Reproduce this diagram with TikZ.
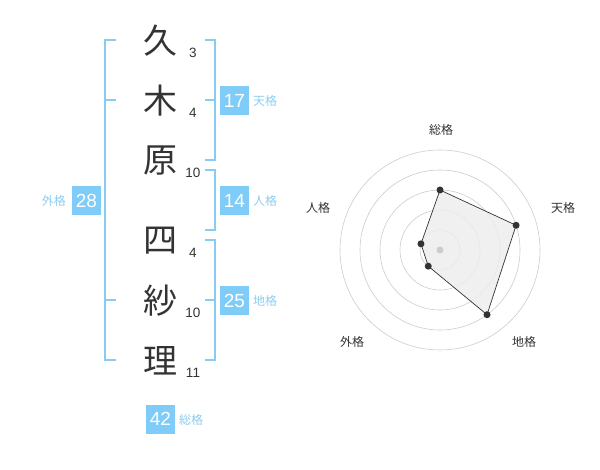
\documentclass[tikz,border=0pt]{standalone}
\usepackage{fontspec}
\setmainfont{Liberation Sans}
\newfontfamily\jp{Noto Sans CJK JP}
\usetikzlibrary{calc}
\definecolor{boxblue}{HTML}{80CCF8}
\definecolor{brblue}{HTML}{88CCF4}
\definecolor{lblblue}{HTML}{8CCDEE}
\definecolor{ink}{HTML}{333333}
\definecolor{ring}{HTML}{CCCCCC}
\tikzset{
  kanji/.style={text=ink,font=\jp\fontsize{34}{34}\selectfont,inner sep=0pt},
  strokes/.style={text=ink,font=\fontsize{13.5}{13.5}\selectfont,inner sep=0pt},
  numbox/.style={fill=boxblue,text=white,minimum width=29pt,minimum height=29pt,inner sep=0pt,font=\fontsize{19}{19}\selectfont},
  kaku/.style={text=lblblue,font=\jp\fontsize{12}{12}\selectfont,inner sep=0pt},
  brk/.style={draw=brblue,line width=2pt},
  rlabel/.style={text=ink,font=\jp\fontsize{12}{12}\selectfont,inner sep=0pt},
  dot/.style={circle,fill=ink,inner sep=0pt,minimum size=7pt},
}
\begin{document}
\begin{tikzpicture}[x=1pt,y=-1pt]
\useasboundingbox (0,0) rectangle (600,470);
% characters
\node[kanji] (c1) at (160,41) {久};
\node[kanji] (c2) at (160,101) {木};
\node[kanji] (c3) at (160,161) {原};
\node[kanji] (c4) at (160,241) {四};
\node[kanji] (c5) at (160,301) {紗};
\node[kanji] (c6) at (160,361) {理};
\node[strokes] (s1) at (193,53) {3};
\node[strokes] (s2) at (193,113) {4};
\node[strokes] (s3) at (193,173) {10};
\node[strokes] (s4) at (193,253) {4};
\node[strokes] (s5) at (193,313) {10};
\node[strokes] (s6) at (193,373) {11};
% brackets
\draw[brk] (116,40) -- (105,40) -- (105,360) -- (116,360);
\draw[brk] (105,100) -- (116,100);
\draw[brk] (105,300) -- (116,300);
\draw[brk] (205,40) -- (215,40) -- (215,160) -- (205,160);
\draw[brk] (205,100) -- (215,100);
\draw[brk] (205,170) -- (215,170) -- (215,230) -- (205,230);
\draw[brk] (205,240) -- (215,240) -- (215,360) -- (205,360);
\draw[brk] (205,300) -- (215,300);
% boxes
\node[numbox] (ten) at (234.5,100.5) {17};
\node[kaku,anchor=west] (tenl) at (253,101) {天格};
\node[numbox] (jin) at (234.5,200.5) {14};
\node[kaku,anchor=west] (jinl) at (253,201) {人格};
\node[numbox] (chi) at (234.5,300.5) {25};
\node[kaku,anchor=west] (chil) at (253,301) {地格};
\node[numbox] (gai) at (86.5,200.5) {28};
\node[kaku,anchor=east] (gail) at (66,201) {外格};
\node[numbox] (sou) at (160.5,419) {42};
\node[kaku,anchor=west] (soul) at (179,419.5) {総格};
% radar
\coordinate (c) at (440,250);
\foreach \r in {20,40,60,80,100} \draw[ring,line width=0.6pt] (c) circle (\r);
\coordinate (p1) at ($(c)+(-90:60)$);
\coordinate (p2) at ($(c)+(-18:80)$);
\coordinate (p3) at ($(c)+(54:80)$);
\coordinate (p4) at ($(c)+(126:20)$);
\coordinate (p5) at ($(c)+(198:20)$);
\draw[ink,fill=black!7,fill opacity=0.85,line width=0.7pt] (p1) -- (p2) -- (p3) -- (p4) -- (p5) -- cycle;
\node[circle,fill=ring,inner sep=0pt,minimum size=7pt] (cd) at (c) {};
\foreach \p in {p1,p2,p3,p4,p5} \node[dot] at (\p) {};
\node[rlabel] (l1) at (441,130) {総格};
\node[rlabel] (l2) at (563,208) {天格};
\node[rlabel] (l3) at (524,342) {地格};
\node[rlabel] (l4) at (352,342) {外格};
\node[rlabel] (l5) at (318,208) {人格};
\end{tikzpicture}
\end{document}
